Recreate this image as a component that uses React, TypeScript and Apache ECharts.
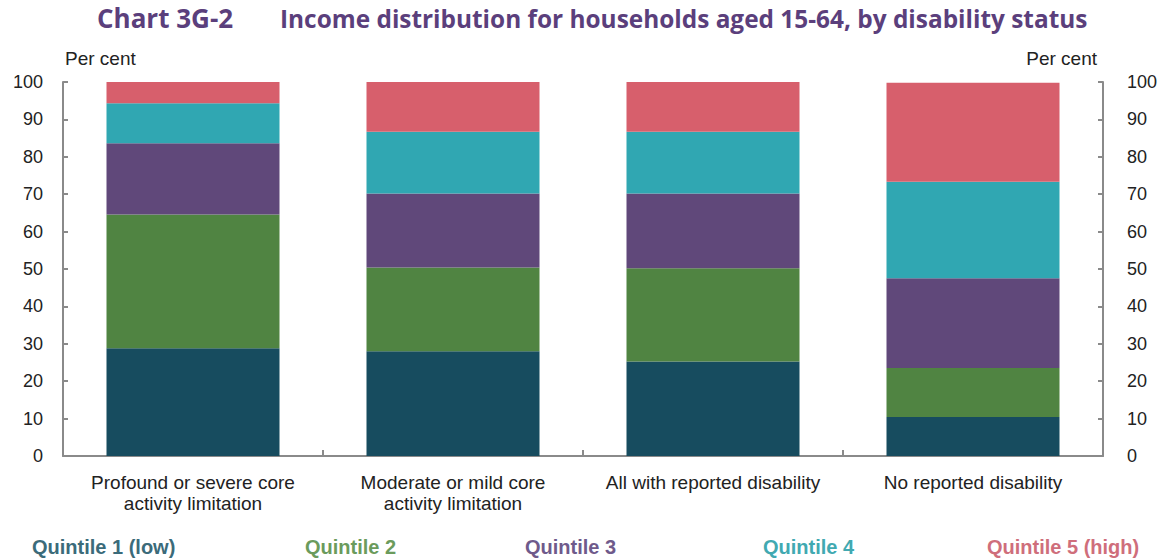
import React, { useEffect, useRef } from "react";
import * as echarts from "echarts";

const categories = [
  "Profound or severe core\nactivity limitation",
  "Moderate or mild core\nactivity limitation",
  "All with reported disability",
  "No reported disability",
];
const seriesNames = ["Quintile 1 (low)", "Quintile 2", "Quintile 3", "Quintile 4", "Quintile 5 (high)"];
const q1 = [28.8, 28.0, 25.3, 10.4];
const q2 = [35.8, 22.4, 24.9, 13.1];
const q3 = [19.0, 19.8, 20.0, 24.0];
const q4 = [10.7, 16.5, 16.5, 25.8];
const q5 = [5.7, 13.3, 13.3, 26.5];
const seriesValues = [q1, q2, q3, q4, q5];
const barColors = ["#174c5f", "#508442", "#60487a", "#30a7b2", "#d75f6c"];
const legendColors = ["#3b6b7a", "#6b9b5c", "#6f5a8b", "#41a9b1", "#cf6e7b"];
const legendX = [32, 305, 525, 763, 987];
const yTicks = { min: 0, max: 100, interval: 10 };

export default function App() {
  const ref = useRef<HTMLDivElement>(null);
  useEffect(() => {
    if (!ref.current) return;
    const chart = echarts.init(ref.current, undefined, { renderer: "svg" });
    const axisLine = { show: true, lineStyle: { color: "#8a8a8a", width: 2 } };
    const font = "'Liberation Sans', Arial, sans-serif";
    chart.setOption({
      animation: false,
      backgroundColor: "#ffffff",
      grid: { left: 63, right: 58, top: 82, bottom: 104, containLabel: false },
      xAxis: {
        type: "category",
        data: categories,
        axisLine,
        axisTick: { show: true, inside: true, length: 6, lineStyle: { color: "#8a8a8a", width: 2 } },
        axisLabel: { interval: 0, color: "#222", fontSize: 19, fontFamily: font, margin: 16, lineHeight: 21 },
      },
      yAxis: [
        {
          type: "value",
          ...yTicks,
          position: "left",
          axisLine,
          axisTick: { show: true, inside: true, length: 5, lineStyle: { color: "#8a8a8a", width: 2 } },
          axisLabel: { color: "#222", fontSize: 18, fontFamily: font, margin: 20 },
          splitLine: { show: false },
        },
        {
          type: "value",
          ...yTicks,
          position: "right",
          axisLine,
          axisTick: { show: true, inside: true, length: 5, lineStyle: { color: "#8a8a8a", width: 2 } },
          axisLabel: { color: "#222", fontSize: 18, fontFamily: font, margin: 24 },
          splitLine: { show: false },
        },
      ],
      series: seriesNames.map((name, i) => ({
        name,
        type: "bar",
        stack: "total",
        yAxisIndex: 0,
        barWidth: 173,
        data: seriesValues[i],
        itemStyle: { color: barColors[i] },
      })),
      graphic: [
        {
          type: "text",
          left: 97,
          top: 5,
          style: { text: "Chart 3G-2", fill: "#5b3f7c", font: "bold 26px 'Open Sans', sans-serif" },
        },
        {
          type: "text",
          left: 280,
          top: 6,
          style: {
            text: "Income distribution for households aged 15-64, by disability status",
            fill: "#5b3f7c",
            font: "bold 24.4px 'Open Sans', sans-serif",
          },
        },
        {
          type: "text",
          left: 65,
          top: 49,
          style: { text: "Per cent", fill: "#222", font: `19px ${font}` },
        },
        {
          type: "text",
          right: 64,
          top: 49,
          style: { text: "Per cent", fill: "#222", font: `19px ${font}` },
        },
        ...seriesNames.map((name, i) => ({
          type: "text",
          left: legendX[i],
          top: 537,
          style: { text: name, fill: legendColors[i], font: `bold 20px ${font}` },
        })),
      ],
    });
    return () => chart.dispose();
  }, []);
  return <div ref={ref} style={{ width: 1161, height: 560, position: "absolute", left: 0, top: 0 }} />;
}
